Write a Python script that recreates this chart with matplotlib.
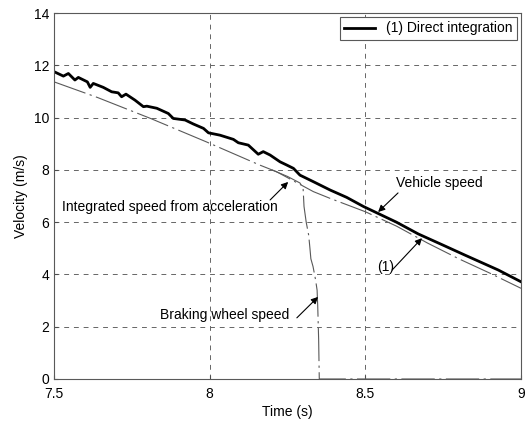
import matplotlib
matplotlib.use("Agg")
import matplotlib.pyplot as plt

plt.rcParams['font.family'] = ['Liberation Sans', 'DejaVu Sans']

# Vehicle speed, direct integration (solid)
t_vehicle = [7.5, 7.530, 7.546, 7.567, 7.578, 7.607, 7.616, 7.626, 7.658, 7.685,
             7.706, 7.717, 7.731, 7.760, 7.787, 7.798, 7.830, 7.867, 7.883, 7.921,
             7.947, 7.980, 7.996, 8.033, 8.076, 8.092, 8.124, 8.156, 8.172, 8.194,
             8.226, 8.247, 8.269, 8.290, 8.333, 8.387, 8.440, 8.494, 8.547, 8.60,
             8.670, 8.750, 8.820, 8.927, 9.0]
v_vehicle = [11.76, 11.59, 11.69, 11.44, 11.54, 11.37, 11.16, 11.31, 11.16, 10.99,
             10.95, 10.80, 10.90, 10.67, 10.42, 10.44, 10.36, 10.16, 9.97, 9.91,
             9.76, 9.59, 9.42, 9.33, 9.17, 9.04, 8.95, 8.60, 8.70, 8.57,
             8.31, 8.19, 8.06, 7.80, 7.55, 7.23, 6.95, 6.60, 6.30, 6.00,
             5.55, 5.12, 4.74, 4.17, 3.72]

# Integrated speed from acceleration (dash-dot)
t_integ = [7.5, 7.64, 7.81, 7.99, 8.16, 8.215, 8.333, 8.387, 8.5, 8.6, 8.7, 8.8, 8.9, 9.0]
v_integ = [11.37, 10.77, 9.97, 9.07, 8.19, 7.93, 7.17, 6.91, 6.40, 5.85, 5.20, 4.60, 4.05, 3.47]

# Braking wheel speed (dash-dot)
t_wheel = [8.20, 8.25, 8.29, 8.300, 8.303, 8.310, 8.318, 8.322, 8.325, 8.332,
           8.340, 8.345, 8.347, 8.350, 8.352, 9.0]
v_wheel = [8.00, 7.75, 7.50, 7.30, 6.60, 6.00, 5.50, 5.00, 4.60, 4.30,
           3.80, 3.40, 2.80, 1.50, 0.0, 0.0]

x_ticks = [7.5, 8, 8.5, 9]
x_tick_labels = ['7.5', '8', '8.5', '9']
y_ticks = [0, 2, 4, 6, 8, 10, 12, 14]

fig = plt.figure(figsize=(5.30, 4.21), dpi=100)
ax = fig.add_axes([0.102, 0.0998, 0.881, 0.869])

dashdot = (0, (30, 4, 2, 4))
ax.plot(t_integ, v_integ, color='0.35', lw=0.8, linestyle=dashdot)
ax.plot(t_wheel, v_wheel, color='0.35', lw=0.8, linestyle=dashdot)
ax.plot(t_vehicle, v_vehicle, color='black', lw=2.0, label='(1) Direct integration')

ax.set_xlim(7.5, 9)
ax.set_ylim(0, 14)
ax.set_xticks(x_ticks)
ax.set_xticklabels(x_tick_labels)
ax.set_yticks(y_ticks)
ax.tick_params(direction='in', length=3, labelsize=10, color='0.3')
ax.tick_params(axis='x', pad=6)
ax.grid(True, color='0.4', lw=0.7, linestyle=(0, (5, 5)))
for s in ax.spines.values():
    s.set_color('0.35')
    s.set_linewidth(0.8)

ax.set_xlabel('Time (s)', fontsize=10, labelpad=3)
ax.set_ylabel('Velocity (m/s)', fontsize=10)

leg = ax.legend(loc='upper right', fontsize=10, fancybox=False, framealpha=1,
                edgecolor='0.35', handlelength=2.2, borderaxespad=0.3,
                borderpad=0.3)
leg.get_frame().set_linewidth(0.8)

ap = dict(arrowstyle='-|>', color='black', lw=0.8, mutation_scale=10, shrinkA=0, shrinkB=0)
ax.text(7.526, 6.58, 'Integrated speed from acceleration', fontsize=10, va='center', ha='left')
ax.annotate('', xy=(8.252, 7.54), xytext=(8.194, 6.85), arrowprops=ap)
ax.text(8.6, 7.5, 'Vehicle speed', fontsize=10, va='center', ha='left')
ax.annotate('', xy=(8.541, 6.39), xytext=(8.605, 7.12), arrowprops=ap)
ax.text(7.84, 2.45, 'Braking wheel speed', fontsize=10, va='center', ha='left')
ax.annotate('', xy=(8.348, 3.14), xytext=(8.28, 2.34), arrowprops=ap)
ax.text(8.537, 4.28, '(1)', fontsize=10, va='center', ha='left')
ax.annotate('', xy=(8.682, 5.39), xytext=(8.586, 4.17), arrowprops=ap)

fig.savefig('out.png', dpi=100)
